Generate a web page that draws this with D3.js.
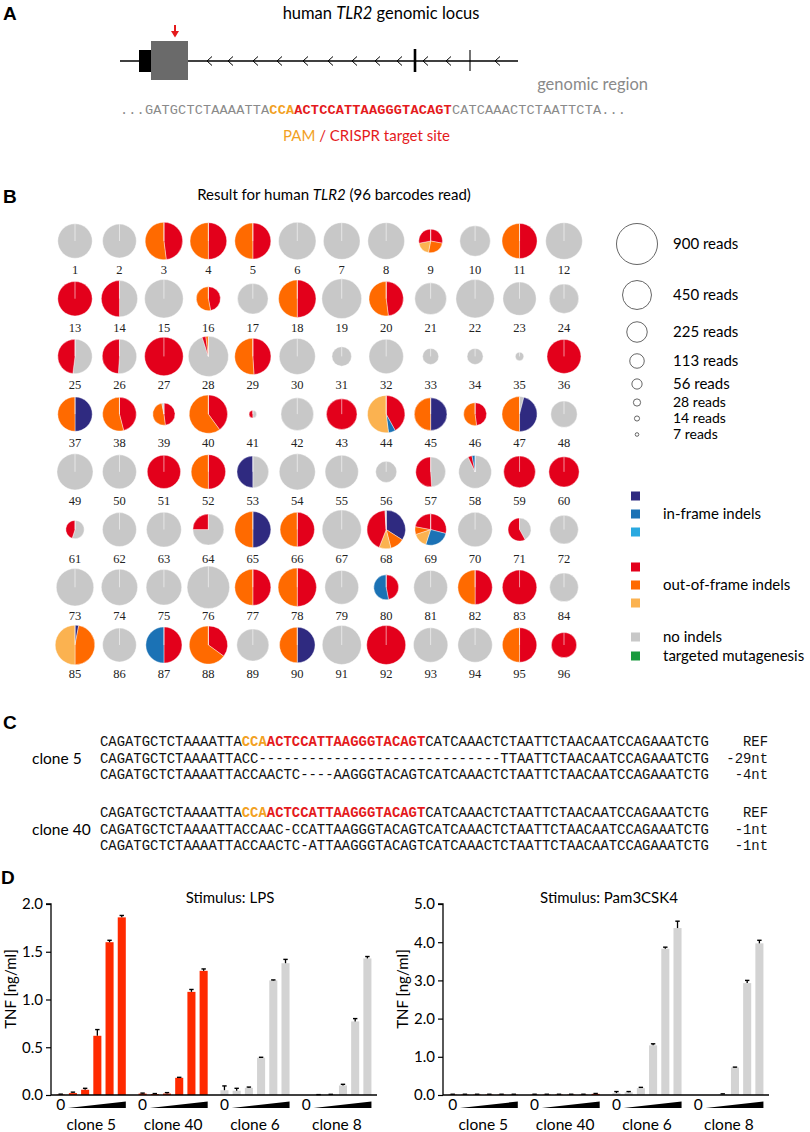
<!DOCTYPE html>
<html><head><meta charset="utf-8">
<script src="https://cdn.jsdelivr.net/npm/d3@7"></script>
<style>body{margin:0;background:#fff} svg{display:block}</style>
</head><body><svg id="c" width="810" height="1132"></svg>
<script>
// ---------------- DATA ----------------
// Panel B: reads per barcode (pie area) and composition (clockwise from 12 o'clock)
const pieReads = [
 635,610,750,722,696,750,722,722,299,500,660,722,
 635,704,796,311,500,750,845,635,538,787,593,463,
 635,635,796,865,704,696,204,635,138,138,38,618,
 635,610,265,787,30,569,500,750,569,282,660,373,
 696,618,593,635,538,696,593,239,477,577,538,492,
 181,618,651,514,696,635,820,790,530,635,282,440,
 750,704,677,965,696,787,610,330,610,635,635,440,
 840,610,700,780,552,677,815,815,635,635,635,341];
const pieComp = [
 "G","G","R48 O52","R50 O50","R50 O50","G","G","G","R28 O25 L19 R28","G","R50 O50","G",
 "R","G50 R50","G","R47 O53","G","R50 O50","G","R48 O52","G","G","G","G",
 "G52 R48","G51 R49","R","G95 R3 O2","R49 O51","G","G","G","G","G","G","R",
 "D50 O50","R46 O54","R48 O49 G3","R40 O60","G50 R50","G","R","R42 B6 L52","D50 O50","R48 O52","G4 D46 O50","G",
 "G","G","R","R50 O50","G50 D50","G","G","G","G49 R51","G93 R4 B3","R","R",
 "G55 R45","G","G","G75 R25","D50 O50","R50 O50","G","D34 O12 L10 R43 G1","R29 B26 L15 O8 R22","G","G42 R58","G",
 "G","G","G","G","R50 O50","R50 O50","G","R47 B53","G","R50 O50","R","G",
 "D3 O47 L50","G","R50 B50","R35 O65","G","D50 O50","G","R","G","G","R50 O50","R"];
const legendSizes = [900,450,225,113,56,28,14,7];
const legendGroups = [
 {label:"in-frame indels", cats:["D","B","C"]},
 {label:"out-of-frame indels", cats:["R","O","L"]},
 {label:"no indels", cats:["G"]},
 {label:"targeted mutagenesis", cats:["T"]}];

// Panel A / C sequences
const seqRefParts = ["CAGATGCTCTAAAATTA","CCA","ACTCCATTAAGGGTACAGT","CATCAAACTCTAATTCTAACAATCCAGAAATCTG"];
const clone5Seqs = ["CAGATGCTCTAAAATTACC-----------------------------TTAATTCTAACAATCCAGAAATCTG",
                    "CAGATGCTCTAAAATTACCAACTC----AAGGGTACAGTCATCAAACTCTAATTCTAACAATCCAGAAATCTG"];
const clone5Labels = ["-29nt","-4nt"];
const clone40Seqs = ["CAGATGCTCTAAAATTACCAAC-CCATTAAGGGTACAGTCATCAAACTCTAATTCTAACAATCCAGAAATCTG",
                     "CAGATGCTCTAAAATTACCAACTC-ATTAAGGGTACAGTCATCAAACTCTAATTCTAACAATCCAGAAATCTG"];
const clone40Labels = ["-1nt","-1nt"];

// Panel D
const clones = ["clone 5","clone 40","clone 6","clone 8"];
const lpsMean = [[0.005,0.02,0.055,0.62,1.60,1.86],[0.015,0.01,0.015,0.18,1.08,1.30],[0.05,0.045,0.075,0.39,1.20,1.38],[0.0,0.004,0.005,0.10,0.77,1.43]];
const lpsErr  = [[0.004,0.01,0.015,0.065,0.02,0.02],[0.005,0.005,0.01,0.005,0.025,0.02],[0.045,0.025,0.008,0.005,0.005,0.04],[0,0,0.002,0.012,0.03,0.02]];
const pamMean = [[0.01,0.01,0.01,0.01,0.01,0.01],[0.01,0.01,0.01,0.01,0.01,0.03],[0.05,0.07,0.18,1.30,3.83,4.37],[0,0,0.02,0.72,2.93,3.97]];
const pamErr  = [[0.01,0.01,0.01,0.01,0.01,0.01],[0.01,0.01,0.01,0.01,0.01,0.01],[0.04,0.02,0.02,0.04,0.04,0.18],[0,0,0.01,0.01,0.07,0.08]];
const lpsTicks = [0,0.5,1.0,1.5,2.0];
const pamTicks = [0,1,2,3,4,5];

// ---------------- STYLE ----------------
const catColors = {D:"#2f2a80",B:"#1b72b5",C:"#2aa9e0",R:"#e3001b",O:"#ff6a00",L:"#fbb250",G:"#c8c8c8",T:"#1a9a3e"};
const SANS = "Lato, 'Open Sans', sans-serif";
const MONO = "'Liberation Mono', 'DejaVu Sans Mono', monospace";
const RED = "#e41a1c", ORANGE = "#f2a11f";
const svg = d3.select("#c");
svg.append("rect").attr("width",810).attr("height",1132).attr("fill","#fff");

function panelLetter(t,x,y){
  svg.append("text").attr("x",x).attr("y",y).text(t)
    .attr("font-family","'Liberation Sans', Arial, sans-serif").attr("font-weight","bold").attr("font-size",19);
}

// ---------------- PANEL A ----------------
panelLetter("A",3,20);
{
  const t = svg.append("text").attr("x",381).attr("y",19).attr("text-anchor","middle")
    .attr("font-family",SANS).attr("font-size",16.5);
  t.append("tspan").text("human ");
  t.append("tspan").attr("font-style","italic").text("TLR2");
  t.append("tspan").text(" genomic locus");
  const g = svg.append("g");
  g.append("line").attr("x1",120).attr("x2",518).attr("y1",61).attr("y2",61).attr("stroke","#000").attr("stroke-width",1.5);
  g.append("rect").attr("x",139).attr("y",50).attr("width",13).attr("height",22).attr("fill","#000");
  g.append("rect").attr("x",151).attr("y",41).attr("width",37).attr("height",39).attr("fill","#6a6a6a");
  const chev = [209,230,255,279,305,330,354,377,399,425,448,497];
  chev.forEach(cx=>g.append("path").attr("d",`M${cx+3},56.5 L${cx-2},61 L${cx+3},65.5`).attr("fill","none").attr("stroke","#000").attr("stroke-width",1));
  g.append("line").attr("x1",415).attr("x2",415).attr("y1",49).attr("y2",72).attr("stroke","#000").attr("stroke-width",2.6);
  g.append("line").attr("x1",470).attr("x2",470).attr("y1",50).attr("y2",71).attr("stroke","#000").attr("stroke-width",1.1);
  g.append("line").attr("x1",175).attr("x2",175).attr("y1",25).attr("y2",32).attr("stroke",RED).attr("stroke-width",2);
  g.append("path").attr("d","M171,31 L179,31 L175,37.5 Z").attr("fill",RED);
  svg.append("text").attr("x",648).attr("y",90).attr("text-anchor","end").attr("font-family",SANS).attr("font-size",16.5).attr("fill","#8a8a8a").text("genomic region");
  const s = svg.append("text").attr("x",120).attr("y",114).attr("font-family",MONO).attr("font-size",13.6)
    .attr("textLength",506).attr("lengthAdjust","spacing").attr("fill","#8a8a8a");
  s.append("tspan").text("..."+seqRefParts[0].slice(2));
  s.append("tspan").attr("fill",ORANGE).attr("font-weight","bold").text(seqRefParts[1]);
  s.append("tspan").attr("fill",RED).attr("font-weight","bold").text(seqRefParts[2]);
  s.append("tspan").text(seqRefParts[3].slice(0,18)+"...");
  const p = svg.append("text").attr("x",283).attr("y",141).attr("font-family",SANS).attr("font-size",15);
  p.append("tspan").attr("fill",ORANGE).text("PAM");
  p.append("tspan").attr("fill",RED).text(" / CRISPR target site");
}

// ---------------- PANEL B ----------------
panelLetter("B",3,203);
{
  const t = svg.append("text").attr("x",334).attr("y",200).attr("text-anchor","middle")
    .attr("font-family",SANS).attr("font-size",15);
  t.append("tspan").text("Result for human ");
  t.append("tspan").attr("font-style","italic").text("TLR2");
  t.append("tspan").text(" (96 barcodes read)");

  const colX = d3.scaleLinear().domain([0,11]).range([75,564]);
  const rowY = d3.scaleLinear().domain([0,7]).range([241,645]);
  const rScale = d3.scaleSqrt().domain([0,900]).range([0,20.5]);
  const pie = d3.pie().sort(null).value(d=>d.v);
  const parse = s => s.length===1 ? [{c:s,v:100}] : s.split(" ").map(tk=>({c:tk[0],v:+tk.slice(1)}));
  const data = pieReads.map((r,i)=>({i, reads:r, slices:parse(pieComp[i])}));
  const cells = svg.append("g").selectAll("g").data(data).join("g")
    .attr("transform",d=>`translate(${colX(d.i%12)},${rowY(Math.floor(d.i/12))})`);
  cells.each(function(d){
    const g = d3.select(this);
    const r = rScale(d.reads);
    const arc = d3.arc().innerRadius(0).outerRadius(r);
    g.selectAll("path").data(pie(d.slices)).join("path").attr("d",arc)
      .attr("fill",s=>catColors[s.data.c]).attr("stroke","#fff").attr("stroke-width",0.4);
    g.append("line").attr("x1",0).attr("y1",0).attr("x2",0).attr("y2",-r).attr("stroke","#fff").attr("stroke-width",0.7).attr("opacity",0.8);
    g.append("text").attr("y",33).attr("text-anchor","middle").attr("font-family","'Liberation Serif', serif").attr("font-size",12.5).attr("fill","#222").text(d.i+1);
  });

  // size legend
  const ly = [244,295,332,361,384,402.5,418.5,434.5];
  const lg = svg.append("g");
  legendSizes.forEach((s,k)=>{
    lg.append("circle").attr("cx",637).attr("cy",ly[k]).attr("r",rScale(s)).attr("fill","none").attr("stroke","#555").attr("stroke-width",0.9);
    lg.append("text").attr("x",673).attr("y",ly[k]+4.5).attr("font-family",SANS).attr("font-size",k<5?15:14).text(s+" reads");
  });
  // color legend
  const sqY = [[496,514,532],[567,585,603],[637],[656]];
  legendGroups.forEach((grp,k)=>{
    grp.cats.forEach((c,j)=>lg.append("rect").attr("x",631).attr("y",sqY[k][j]-4.5).attr("width",9).attr("height",9).attr("fill",catColors[c]));
    const mid = sqY[k][Math.floor(grp.cats.length/2)];
    lg.append("text").attr("x",663).attr("y",mid+5).attr("font-family",SANS).attr("font-size",15).text(grp.label);
  });
}

// ---------------- PANEL C ----------------
panelLetter("C",3,729);
{
  const charW = 8.34, x0 = 100, n = 73, fs = 13.9, lh = 16.5;
  function refLine(y){
    const t = svg.append("text").attr("x",x0).attr("y",y).attr("font-family",MONO).attr("font-size",fs)
      .attr("textLength",n*charW).attr("lengthAdjust","spacing").attr("fill","#111");
    t.append("tspan").text(seqRefParts[0]);
    t.append("tspan").attr("fill",ORANGE).attr("font-weight","bold").text(seqRefParts[1]);
    t.append("tspan").attr("fill",RED).attr("font-weight","bold").text(seqRefParts[2]);
    t.append("tspan").text(seqRefParts[3]);
    svg.append("text").attr("x",768).attr("y",y).attr("text-anchor","end").attr("font-family",MONO).attr("font-size",fs).attr("fill","#111").text("REF");
  }
  function block(y, name, seqs, labels){
    refLine(y);
    seqs.forEach((s,k)=>{
      svg.append("text").attr("x",x0).attr("y",y+lh*(k+1)).attr("font-family",MONO).attr("font-size",fs)
        .attr("textLength",n*charW).attr("lengthAdjust","spacing").attr("fill","#111").text(s);
      svg.append("text").attr("x",768).attr("y",y+lh*(k+1)).attr("text-anchor","end").attr("font-family",MONO).attr("font-size",fs).attr("fill","#111").text(labels[k]);
    });
    svg.append("text").attr("x",32).attr("y",y+lh+1).attr("font-family",SANS).attr("font-size",15.5).text(name);
  }
  block(746,"clone 5",clone5Seqs,clone5Labels);
  block(817,"clone 40",clone40Seqs,clone40Labels);
}

// ---------------- PANEL D ----------------
panelLetter("D",1,884);
function barChart(ax, titleX, title, means, errs, yMax, ticks){
  const g = svg.append("g");
  const y = d3.scaleLinear().domain([0,yMax]).range([1095,904]);
  const xo = d3.scaleBand().domain(clones).range([ax+3.6, ax+322.5]).paddingInner(0.105).paddingOuter(0);
  const xi = d3.scaleBand().domain(d3.range(6)).range([0,xo.bandwidth()]).paddingInner(0.34).paddingOuter(0.17);
  const bw = xi.bandwidth();
  const flat = [];
  clones.forEach((c,ci)=>means[ci].forEach((m,k)=>flat.push({c,ci,k,m,e:errs[ci][k]})));
  g.selectAll("rect.bar").data(flat).join("rect").attr("class","bar")
    .attr("x",d=>xo(d.c)+xi(d.k)).attr("width",bw)
    .attr("y",d=>y(d.m)).attr("height",d=>y(0)-y(d.m))
    .attr("fill",d=>d.ci<2?"#ff2a00":"#d3d3d3");
  const eb = flat.filter(d=>d.e>0 || d.m>0);
  g.selectAll("line.err").data(eb).join("line").attr("class","err")
    .attr("x1",d=>xo(d.c)+xi(d.k)+bw/2).attr("x2",d=>xo(d.c)+xi(d.k)+bw/2)
    .attr("y1",d=>y(d.m)).attr("y2",d=>y(d.m+d.e)).attr("stroke","#000").attr("stroke-width",1.3);
  g.selectAll("line.cap").data(eb).join("line").attr("class","cap")
    .attr("x1",d=>xo(d.c)+xi(d.k)+bw/2-2.2).attr("x2",d=>xo(d.c)+xi(d.k)+bw/2+2.2)
    .attr("y1",d=>y(d.m+d.e)).attr("y2",d=>y(d.m+d.e)).attr("stroke","#000").attr("stroke-width",1.4);
  const axis = d3.axisLeft(y).tickValues(ticks).tickFormat(d3.format(".1f")).tickSize(5).tickPadding(3);
  const ag = g.append("g").attr("transform",`translate(${ax},0)`).call(axis);
  ag.select(".domain").attr("stroke-width",1.3).attr("d",`M-5,${y(yMax)}H0V${y(0)}`);
  ag.selectAll(".tick line").attr("stroke-width",1.2);
  ag.selectAll("text").attr("font-family",SANS).attr("font-size",15).attr("fill","#000");
  g.append("line").attr("x1",ax).attr("x2",ax+326).attr("y1",y(0)).attr("y2",y(0)).attr("stroke","#000").attr("stroke-width",1.3);
  clones.forEach(c=>{
    const gx = xo(c);
    g.append("text").attr("x",gx+xi(0)+bw/2).attr("y",1110).attr("text-anchor","middle").attr("font-family",SANS).attr("font-size",15.5).text("0");
    const xl = gx+xi(1)-1, xr = gx+xi(5)+bw;
    g.append("path").attr("d",`M${xl},1108 L${xr},1101.5 L${xr},1108 Z`).attr("fill","#000");
    g.append("text").attr("x",gx+xo.bandwidth()/2).attr("y",1130).attr("text-anchor","middle").attr("font-family",SANS).attr("font-size",15.5).text(c);
  });
  g.append("text").attr("x",titleX).attr("y",903).attr("text-anchor","middle").attr("font-family",SANS).attr("font-size",15).text(title);
  g.append("text").attr("transform",`translate(${ax-35},989) rotate(-90)`).attr("text-anchor","middle").attr("font-family",SANS).attr("font-size",15).text("TNF [ng/ml]");
}
barChart(51,230,"Stimulus: LPS",lpsMean,lpsErr,2.0,lpsTicks);
barChart(443,609,"Stimulus: Pam3CSK4",pamMean,pamErr,5.0,pamTicks);
</script></body></html>
